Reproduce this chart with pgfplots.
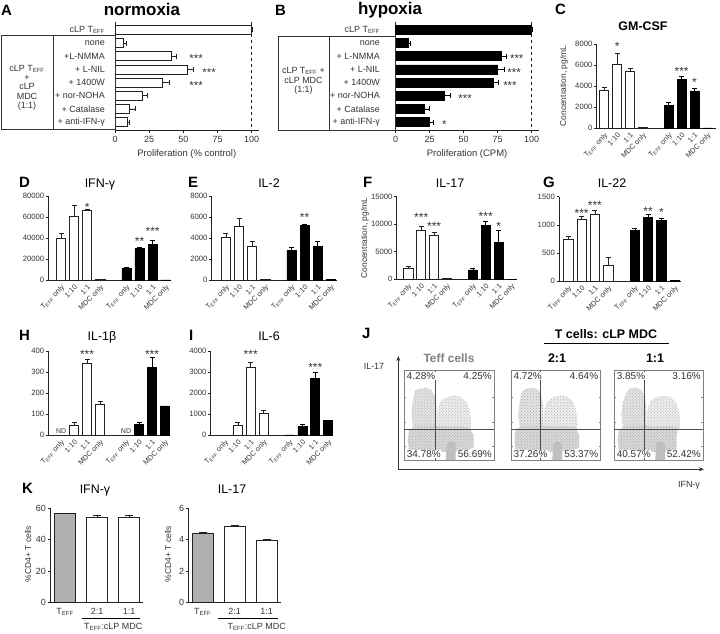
\documentclass[border=0pt]{standalone}
\usepackage{fontspec}
\setmainfont{Liberation Sans}
\usepackage{pgfplots}
\pgfplotsset{compat=1.18}
\usetikzlibrary{arrows.meta,patterns}
\newcommand{\Teff}{T\textsubscript{EFF}}
\newcommand{\fsz}[1]{\fontsize{#1}{#1}\selectfont}
\definecolor{dk}{HTML}{222222}
\definecolor{tx}{HTML}{333333}
\definecolor{kgray}{HTML}{B0B0B0}
\tikzset{
  st/.style={font=\fsz{12}, anchor=base, yshift=-6.9bp, inner sep=0pt, text=tx},
  sth/.style={font=\fsz{11.5}, anchor=base, yshift=-6.6bp, inner sep=0pt, text=tx},
  pct/.style={font=\fsz{10}, text=tx, fill=white, inner sep=0.6pt},
}
\pgfplotsset{
  every axis/.append style={/pgf/number format/assume math mode=true},
  colchart/.style={
    scale only axis, anchor=south west, ymin=0,
    axis x line*=bottom, axis y line*=left,
    axis line style={dk, line width=0.6pt},
    xtick={0,1,2,3,5,6,7,8},
    xticklabels={\Teff{} only,1:10,1:1,MDC only,\Teff{} only,1:10,1:1,MDC only},
    xticklabel style={rotate=45, anchor=north east, font=\fsz{7.3}, text=tx, inner sep=1pt},
    xtick style={draw=none},
    ytick style={dk, line width=0.6pt},
    tick align=outside, major tick length=2.5bp,
    yticklabel style={font=\fsz{7.7}, text=tx, inner sep=1.5pt, /pgf/number format/1000 sep={}},
    scaled y ticks=false,
    clip=false,
  },
  wbar/.style={ybar, bar shift=0pt, bar width=0.7, fill=white, draw=dk, line width=0.6pt,
     error bars/.cd, y dir=plus, y explicit, error bar style={dk, line width=0.6pt},
     error mark options={rotate=90, dk, line width=0.6pt, mark size=2.5bp}},
  kwbar/.style={ybar, bar shift=0pt, bar width=0.67, fill=white, draw=dk, line width=0.6pt,
     error bars/.cd, y dir=plus, y explicit, error bar style={dk, line width=0.6pt},
     error mark options={rotate=90, dk, line width=0.6pt, mark size=4bp}},
  kgbar/.style={ybar, bar shift=0pt, bar width=0.67, fill=kgray, draw=dk, line width=0.6pt,
     error bars/.cd, y dir=plus, y explicit, error bar style={dk, line width=0.6pt},
     error mark options={rotate=90, dk, line width=0.6pt, mark size=4bp}},
  bbar/.style={ybar, bar shift=0pt, bar width=0.7, fill=black, draw=black, line width=0.6pt,
     error bars/.cd, y dir=plus, y explicit, error bar style={black, line width=0.6pt},
     error mark options={rotate=90, black, line width=0.6pt, mark size=2.5bp}},
  hbar/.style={scale only axis, anchor=south west,
    xmin=0, xmax=105, ymin=-0.6, ymax=7.6, y dir=reverse,
    axis x line*=bottom, axis y line*=left,
    axis line style={dk, line width=0.6pt},
    xtick={0,25,50,75,100}, tick align=outside, major tick length=3bp,
    xtick style={dk, line width=0.6pt},
    ytick={0,...,7}, ytick style={draw=none},
    yticklabel style={font=\fsz{9}, text=tx, anchor=east, inner sep=0pt},
    xticklabel style={font=\fsz{9}, text=tx},
    xlabel style={font=\fsz{9.5}, text=tx},
    clip=false},
  kchart/.style={scale only axis, anchor=south west, ymin=0,
    axis x line*=bottom, axis y line*=left,
    axis line style={dk, line width=0.6pt},
    xtick={0,1,2}, xticklabels={\Teff,2:1,1:1},
    xticklabel style={font=\fsz{9}, text=tx},
    xtick style={draw=none},
    ytick style={dk, line width=0.6pt},
    tick align=outside, major tick length=2.5bp,
    yticklabel style={font=\fsz{9}, text=tx, inner sep=1.5pt},
    clip=false},
  flow/.style={scale only axis, anchor=south west,
    xmin=0, xmax=1, ymin=0, ymax=1, xtick=\empty,
    ytick={0.15,0.42,0.7}, yticklabels={}, tick align=inside, major tick length=2bp,
    ytick style={gray, line width=0.5pt},
    axis line style={gray, line width=0.6pt}, clip=false},
  dotfill/.style={draw=none, fill=gray!#1, postaction={pattern=crosshatch dots, pattern color=gray!70}},
}
% #1 top of left column, #2 right edge of band
\newcommand{\cloud}[2]{%
  \addplot[dotfill=20] coordinates {(0.1,0.35) (0.08,0.5) (0.09,0.62) (0.12,#1) (0.17,0.8) (0.24,0.81) (0.3,0.79) (0.34,0.72) (0.36,0.6) (0.36,0.35)} -- cycle;
  \addplot[dotfill=12] coordinates {(0.36,0.35) (0.37,0.55) (0.4,0.65) (0.46,0.7) (0.54,0.72) (0.62,0.71) (0.68,0.67) (0.72,0.58) (0.74,0.45) (0.74,0.35)} -- cycle;
  \addplot[dotfill=30] coordinates {(0.05,0.12) (0.04,0.22) (0.05,0.33) (0.12,0.38) (0.3,0.39) (0.45,0.38) (0.62,0.38) (0.72,0.36) (#2,0.28) (#2,0.14) (0.68,0.1) (0.5,0.09) (0.25,0.1)} -- cycle;
  \addplot[fill=gray!50, draw=none] coordinates {(0.46,0) (0.47,0.18) (0.52,0.21) (0.57,0.18) (0.57,0)} -- cycle;
}
\begin{document}
\begin{tikzpicture}
\path[use as bounding box] (0,0) rectangle (720bp,-634bp);

% ---------------- A ----------------
\begin{axis}[hbar, at={(115bp,-130bp)}, width=143.5bp, height=108bp,
  yticklabels={cLP \Teff, none, +L-NMMA, + L-NIL, + 1400W, + nor-NOHA, + Catalase, + anti-IFN-γ},
  yticklabel style={xshift=-7bp},
  xlabel={Proliferation (\% control)}]
\addplot[xbar, bar shift=0pt, bar width=0.68, fill=white, draw=dk, line width=0.6pt,
  error bars/.cd, x dir=plus, x explicit, error bar style={dk, line width=0.6pt},
  error mark options={rotate=90, dk, line width=0.6pt, mark size=2.5bp}]
  table[x=v, y=i, x error=e] {
i v e
0 100 0.3
1 6.1 1.9
2 41.5 3.5
3 52.9 4.3
4 34.6 5.0
5 20.2 3.4
6 10.5 4.4
7 9.0 1.5
};
\draw[dashed, dk, line width=0.7pt] (axis cs:100,-0.6) -- (axis cs:100,7.6);
\node[sth] at (axis cs:59.3,2) {***};
\node[sth] at (axis cs:68.8,3) {***};
\node[sth] at (axis cs:59.3,4) {***};
\end{axis}

% ---------------- B ----------------
\begin{axis}[hbar, at={(395.7bp,-130bp)}, width=142.8bp, height=108bp,
  yticklabels={cLP \Teff, none, + L-NMMA, + L-NIL, + 1400W, + nor-NOHA, + Catalase, + anti-IFN-γ},
  yticklabel style={xshift=-12.7bp},
  xlabel={Proliferation (CPM)}]
\addplot[xbar, bar shift=0pt, bar width=0.68, fill=black, draw=black, line width=0.6pt,
  error bars/.cd, x dir=plus, x explicit, error bar style={black, line width=0.6pt},
  error mark options={rotate=90, black, line width=0.6pt, mark size=2.5bp}]
  table[x=v, y=i, x error=e] {
i v e
0 100 0.3
1 9.3 1.2
2 77.9 3.1
3 75.0 5.0
4 71.8 3.7
5 35.7 4.2
6 21.0 3.7
7 24.7 2.9
};
\draw[dashed, dk, line width=0.7pt] (axis cs:100,-0.6) -- (axis cs:100,7.6);
\node[sth] at (axis cs:89,2) {***};
\node[sth] at (axis cs:87,3) {***};
\node[sth] at (axis cs:84,4) {***};
\node[sth] at (axis cs:51,5) {***};
\node[sth] at (axis cs:35.7,7) {*};
\end{axis}

% ---------------- C ----------------
\begin{axis}[colchart, at={(596.5bp,-128.3bp)}, width=120bp, height=84.3bp,
  xmin=-0.6, xmax=8.7, ymax=8000, ytick={0,2000,4000,6000,8000}]
\addplot[wbar] table[x=x,y=y,y error=e]{
x y e
0 3570 320
1 6070 1050
2 5440 250
3 60 0
};
\addplot[bbar] table[x=x,y=y,y error=e]{
x y e
5 2210 220
6 4650 250
7 3540 260
8 30 0
};
\node[st] at (axis cs:1,8066) {*};
\node[st] at (axis cs:6,5694) {***};
\node[st] at (axis cs:7,4650) {*};
\end{axis}

% ---------------- D ----------------
\begin{axis}[colchart, at={(48.3bp,-280.3bp)}, width=122.7bp, height=84.3bp,
  xmin=-0.97, xmax=8.4, ymax=80000, ytick={0,20000,40000,60000,80000}]
\addplot[wbar] table[x=x,y=y,y error=e]{
x y e
0 40000 4700
1 61000 10400
2 66700 700
3 900 0
};
\addplot[bbar] table[x=x,y=y,y error=e]{
x y e
5 11400 600
6 30400 600
7 34200 4000
8 300 0
};
\node[st] at (axis cs:2,71500) {*};
\node[st] at (axis cs:6,39860) {**};
\node[st] at (axis cs:7,49350) {***};
\end{axis}

% ---------------- E ----------------
\begin{axis}[colchart, at={(211.7bp,-280.3bp)}, width=125bp, height=84.3bp,
  xmin=-1.09, xmax=8.45, ymax=8000, ytick={0,2000,4000,6000,8000}]
\addplot[wbar] table[x=x,y=y,y error=e]{
x y e
0 4080 380
1 5090 800
2 3255 400
3 90 0
};
\addplot[bbar] table[x=x,y=y,y error=e]{
x y e
5 2875 300
6 5180 160
7 3190 470
8 70 0
};
\node[st] at (axis cs:6,6200) {**};
\end{axis}

% ---------------- F ----------------
\begin{axis}[colchart, at={(396.7bp,-279.3bp)}, width=119.3bp, height=82.6bp,
  xmin=-0.9, xmax=8.35, ymax=15000, ytick={0,5000,10000,15000}]
\addplot[wbar] table[x=x,y=y,y error=e]{
x y e
0 2000 290
1 8830 850
2 8045 490
3 100 0
};
\addplot[bbar] table[x=x,y=y,y error=e]{
x y e
5 1690 310
6 9860 730
7 6650 2180
8 50 0
};
\node[st] at (axis cs:1,11680) {***};
\node[st] at (axis cs:2,10040) {***};
\node[st] at (axis cs:6,11860) {***};
\node[st] at (axis cs:7,10170) {*};
\end{axis}

% ---------------- G ----------------
\begin{axis}[colchart, at={(559bp,-281bp)}, width=121.7bp, height=84.3bp,
  xmin=-0.7, xmax=8.45, ymax=1500, ytick={0,500,1000,1500}]
\addplot[wbar] table[x=x,y=y,y error=e]{
x y e
0 747 50
1 1103 41
2 1186 65
3 285 137
};
\addplot[bbar] table[x=x,y=y,y error=e]{
x y e
5 907 23
6 1133 59
7 1073 42
8 10 0
};
\node[st] at (axis cs:1,1246) {***};
\node[st] at (axis cs:2,1388) {***};
\node[st] at (axis cs:6,1290) {**};
\node[st] at (axis cs:7,1263) {*};
\end{axis}

% ---------------- H ----------------
\begin{axis}[colchart, at={(48.3bp,-435.3bp)}, width=121.9bp, height=84.3bp,
  xmin=-0.98, xmax=8.4, ymax=400, ytick={0,100,200,300,400}]
\addplot[wbar] table[x=x,y=y,y error=e]{
x y e
1 46 14
2 344 16
3 148 12
};
\addplot[bbar] table[x=x,y=y,y error=e]{
x y e
6 52 10
7 323 47
8 140 0
};
\node[font=\fsz{7}, text=tx, anchor=south, yshift=1.5bp, inner sep=0pt] at (axis cs:0,0) {ND};
\node[font=\fsz{7}, text=tx, anchor=south, yshift=1.5bp, inner sep=0pt] at (axis cs:5,0) {ND};
\node[st] at (axis cs:2,397) {***};
\node[st] at (axis cs:7,397) {***};
\end{axis}

% ---------------- I ----------------
\begin{axis}[colchart, at={(210.7bp,-435.3bp)}, width=122.6bp, height=84.3bp,
  xmin=-1.1, xmax=8.4, ymax=4000, ytick={0,1000,2000,3000,4000}]
\addplot[wbar] table[x=x,y=y,y error=e]{
x y e
0 20 0
1 489 109
2 3208 256
3 1044 156
};
\addplot[bbar] table[x=x,y=y,y error=e]{
x y e
5 20 0
6 441 95
7 2705 265
8 726 0
};
\node[st] at (axis cs:2,3967) {***};
\node[st] at (axis cs:7,3369) {***};
\end{axis}

% ---------------- J ----------------
\begin{axis}[flow, at={(404.3bp,-460bp)}, width=90bp, height=89.3bp]
\cloud{0.78}{0.77}
\draw[gray!60!black, line width=0.5pt] (axis cs:0.34,0) -- (axis cs:0.34,1);
\draw[gray!60!black, line width=0.5pt] (axis cs:0,0.344) -- (axis cs:1,0.344);
\node[pct, anchor=north west] at (axis cs:0.02,0.99) {4.28\%};
\node[pct, anchor=north east] at (axis cs:0.98,0.99) {4.25\%};
\node[pct, anchor=south west] at (axis cs:0.02,0.015) {34.78\%};
\node[pct, anchor=south east] at (axis cs:0.98,0.015) {56.69\%};
\end{axis}
\begin{axis}[flow, at={(511bp,-460bp)}, width=89.7bp, height=89.3bp]
\cloud{0.76}{0.76}
\draw[gray!60!black, line width=0.5pt] (axis cs:0.331,0) -- (axis cs:0.331,1);
\draw[gray!60!black, line width=0.5pt] (axis cs:0,0.344) -- (axis cs:1,0.344);
\node[pct, anchor=north west] at (axis cs:0.02,0.99) {4.72\%};
\node[pct, anchor=north east] at (axis cs:0.98,0.99) {4.64\%};
\node[pct, anchor=south west] at (axis cs:0.02,0.015) {37.26\%};
\node[pct, anchor=south east] at (axis cs:0.98,0.015) {53.37\%};
\end{axis}
\begin{axis}[flow, at={(614.3bp,-460bp)}, width=89bp, height=89.3bp]
\cloud{0.72}{0.7}
\draw[gray!60!black, line width=0.5pt] (axis cs:0.334,0) -- (axis cs:0.334,1);
\draw[gray!60!black, line width=0.5pt] (axis cs:0,0.344) -- (axis cs:1,0.344);
\node[pct, anchor=north west] at (axis cs:0.02,0.99) {3.85\%};
\node[pct, anchor=north east] at (axis cs:0.98,0.99) {3.16\%};
\node[pct, anchor=south west] at (axis cs:0.02,0.015) {40.57\%};
\node[pct, anchor=south east] at (axis cs:0.98,0.015) {52.42\%};
\end{axis}

% ---------------- K ----------------
\begin{axis}[kchart, at={(50bp,-602.7bp)}, width=93.1bp, height=94.4bp,
  xmin=-0.47, xmax=2.44, ymax=60, ytick={0,20,40,60}]
\addplot[kgbar] table[x=x,y=y,y error=e]{
x y e
0 56.8 0
};
\addplot[kwbar] table[x=x,y=y,y error=e]{
x y e
1 54.6 0.7
2 54.0 1.6
};
\end{axis}
\begin{axis}[kchart, at={(188.3bp,-602.7bp)}, width=92.4bp, height=94.4bp,
  xmin=-0.45, xmax=2.44, ymax=6, ytick={0,2,4,6}]
\addplot[kgbar] table[x=x,y=y,y error=e]{
x y e
0 4.41 0.05
};
\addplot[kwbar] table[x=x,y=y,y error=e]{
x y e
1 4.83 0.08
2 3.94 0.06
};
\end{axis}

% ---------------- decorations & titles ----------------
\begin{scope}[x=1bp, y=-1bp]
\draw[tx, line width=0.6pt] (1,35) rectangle (115,129);
\draw[tx, line width=0.6pt] (53,35) -- (53,129);
\node[font=\fsz{9}, text=tx, align=center, inner sep=0pt] at (27,88) {cLP \Teff\\[-0.5bp]+\\[0.5bp]cLP\\[0.5bp]MDC\\[0.5bp](1:1)};
\draw[tx, line width=0.6pt] (278,36) rectangle (395.7,130);
\draw[tx, line width=0.6pt] (329.5,36) -- (329.5,130);
\node[font=\fsz{9}, text=tx, align=center, inner sep=0pt] at (303.5,81) {cLP \Teff{} +\\[0.5bp]cLP MDC\\[0.5bp](1:1)};
\node[font=\bfseries\fsz{15}, anchor=base west, inner sep=0pt] at (1,15) {A};
\node[font=\bfseries\fsz{17}, anchor=base, inner sep=0pt] at (142,15) {normoxia};
\node[font=\bfseries\fsz{15}, anchor=base west, inner sep=0pt] at (275,15) {B};
\node[font=\bfseries\fsz{17}, anchor=base, inner sep=0pt] at (390,14) {hypoxia};
\node[font=\bfseries\fsz{15}, anchor=base west, inner sep=0pt] at (555,14) {C};
\node[font=\bfseries\fsz{12.5}, anchor=base, inner sep=0pt] at (643,30) {GM-CSF};
\node[font=\fsz{8.5}, text=tx, rotate=90, inner sep=0pt] at (564,86) {Concentration, pg/mL};
\node[font=\fsz{8.5}, text=tx, rotate=90, inner sep=0pt] at (365,238) {Concentration, pg/mL};
\node[font=\bfseries\fsz{15}, anchor=base west, inner sep=0pt] at (19,187) {D};
\node[font=\fsz{12.5}, anchor=base, inner sep=0pt] at (100,187) {IFN-γ};
\node[font=\bfseries\fsz{15}, anchor=base west, inner sep=0pt] at (188,187) {E};
\node[font=\fsz{12.5}, anchor=base, inner sep=0pt] at (269,187) {IL-2};
\node[font=\bfseries\fsz{15}, anchor=base west, inner sep=0pt] at (363,187) {F};
\node[font=\fsz{12.5}, anchor=base, inner sep=0pt] at (450,187) {IL-17};
\node[font=\bfseries\fsz{15}, anchor=base west, inner sep=0pt] at (543,187) {G};
\node[font=\fsz{12.5}, anchor=base, inner sep=0pt] at (612,187) {IL-22};
\node[font=\bfseries\fsz{15}, anchor=base west, inner sep=0pt] at (19,340) {H};
\node[font=\fsz{12.5}, anchor=base, inner sep=0pt] at (102,340) {IL-1β};
\node[font=\bfseries\fsz{15}, anchor=base west, inner sep=0pt] at (189,340) {I};
\node[font=\fsz{12.5}, anchor=base, inner sep=0pt] at (269,340) {IL-6};
\node[font=\bfseries\fsz{15}, anchor=base west, inner sep=0pt] at (362,338) {J};
\node[font=\bfseries\fsz{12.5}, anchor=base, inner sep=0pt] at (606,338) {T cells: cLP MDC};
\draw[black, line width=1.2pt] (544,343.3) -- (669,343.3);
\node[font=\bfseries\fsz{12}, text=gray, anchor=base, inner sep=0pt] at (449,362) {Teff cells};
\node[font=\bfseries\fsz{12.5}, anchor=base, inner sep=0pt] at (557,362) {2:1};
\node[font=\bfseries\fsz{12.5}, anchor=base, inner sep=0pt] at (655,362) {1:1};
\node[font=\fsz{9}, text=tx, inner sep=0pt] at (374,366) {IL-17};
\node[font=\fsz{9}, text=tx, inner sep=0pt] at (689,485) {IFN-γ};
\draw[tx, line width=0.8pt, -{Stealth[length=5bp,width=4bp]}] (398.3,470) -- (398.3,356);
\draw[tx, line width=0.8pt, -{Stealth[length=5bp,width=4bp]}] (398.3,469.3) -- (704,469.3);
\node[font=\bfseries\fsz{15}, anchor=base west, inner sep=0pt] at (22,493) {K};
\node[font=\fsz{12.5}, anchor=base, inner sep=0pt] at (95,493) {IFN-γ};
\node[font=\fsz{12.5}, anchor=base, inner sep=0pt] at (232,493) {IL-17};
\node[font=\fsz{8.5}, text=tx, rotate=90, inner sep=0pt] at (28,554) {\%CD4+ T cells};
\node[font=\fsz{8.5}, text=tx, rotate=90, inner sep=0pt] at (168,554) {\%CD4+ T cells};
\draw[black, line width=0.8pt] (81.7,618.3) -- (140,618.3);
\draw[black, line width=0.8pt] (218,618.3) -- (278,618.3);
\node[font=\fsz{9}, text=tx, inner sep=0pt] at (113.3,627.3) {\Teff:cLP MDC};
\node[font=\fsz{9}, text=tx, inner sep=0pt] at (256.7,627.3) {\Teff:cLP MDC};
\end{scope}
\end{tikzpicture}
\end{document}
